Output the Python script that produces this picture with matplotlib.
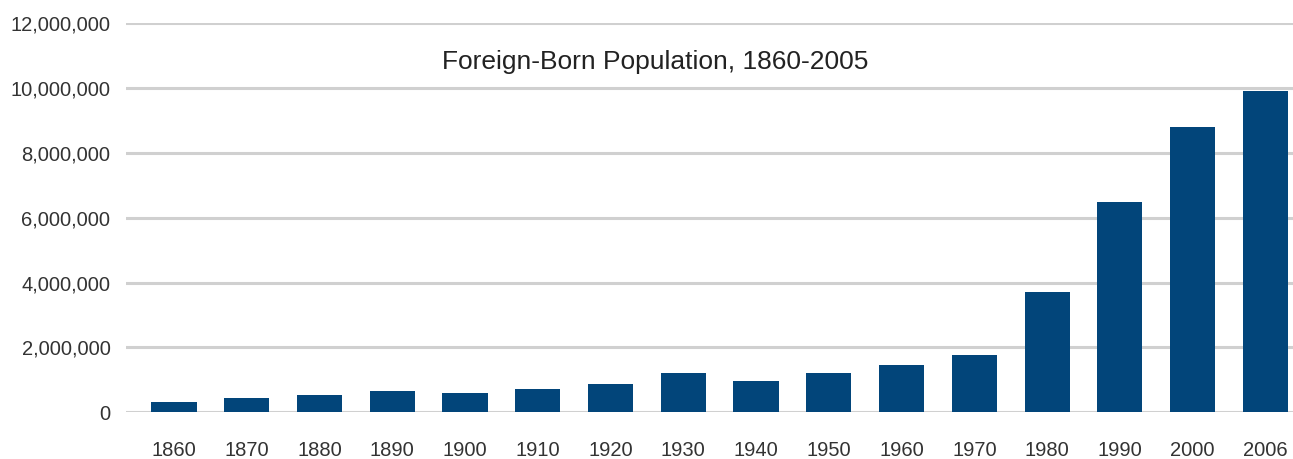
import matplotlib
matplotlib.use("Agg")
import matplotlib.pyplot as plt
from matplotlib.ticker import FuncFormatter

# Données
annees = ["1860", "1870", "1880", "1890", "1900", "1910", "1920", "1930",
          "1940", "1950", "1960", "1970", "1980", "1990", "2000", "2006"]
population = [320000, 430000, 530000, 650000, 590000, 710000, 870000, 1200000,
              970000, 1200000, 1450000, 1780000, 3700000, 6490000, 8800000, 9910000]

titre = "Foreign-Born Population, 1860-2005"

plt.rcParams['font.family'] = ['Liberation Sans', 'DejaVu Sans']

fig = plt.figure(figsize=(12.93, 4.59), dpi=100)
ax = fig.add_axes([0.0972, 0.1017, 0.9028, 0.8483])

positions = list(range(len(annees)))
ax.bar(positions, population, width=0.62, color="#02457a", zorder=3)

ax.set_ylim(0, 12000000)
ax.set_yticks(range(0, 12000001, 2000000))
ax.yaxis.set_major_formatter(FuncFormatter(lambda v, p: f"{int(v):,}"))
ax.set_xlim(-0.664, 15.38)
ax.set_xticks(positions)
ax.set_xticklabels(annees)

ax.grid(axis="y", color="#d0d0d0", linewidth=2.2, zorder=0)
for s in ax.spines.values():
    s.set_visible(False)
ax.tick_params(axis="both", length=0, labelsize=14.5, colors="#333333")
ax.tick_params(axis="y", pad=11)
ax.tick_params(axis="x", pad=21)

fig.text(0.5066, 1 - 62 / 459, titre, ha="center", va="center",
         fontsize=19, color="#222222")

fig.savefig("out.png", dpi=100)
